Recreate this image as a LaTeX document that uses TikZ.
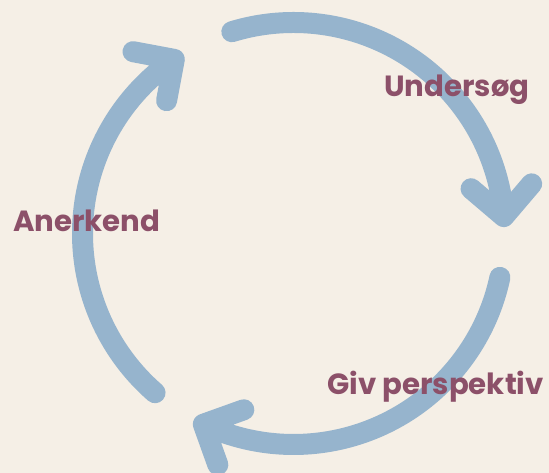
\documentclass[tikz,border=0pt]{standalone}
\usepackage{fontspec}
\setmainfont{Poppins}
\definecolor{bg}{HTML}{F5EFE6}
\definecolor{ring}{HTML}{96B4CD}
\definecolor{word}{HTML}{8C5069}
\begin{document}
\begin{tikzpicture}[x=1pt,y=1pt,
  cyclearc/.style={draw=ring, line width=21pt, line cap=round, line join=round},
  stage/.style={text=word, font=\fontsize{29.2}{35}\selectfont\bfseries,
    inner sep=0pt, anchor=base west}]
\fill[bg] (0,0) rectangle (549,473);
\useasboundingbox (0,0) rectangle (549,473);
\coordinate (c) at (293.5,239.5);
% three arcs of the cycle; each ends in an open chevron whose arms
% leave the end point at 45 degrees to the backward tangent
\draw[cyclearc] (c) ++(107:211) arc[start angle=107,end angle=4.6,radius=211]
  coordinate (tip1) -- ++(49.6:43) (tip1) -- ++(139.6:43);
\draw[cyclearc] (c) ++(-12:211) arc[start angle=-12,end angle=-115.3,radius=211]
  coordinate (tip2) -- ++(-70.3:43) (tip2) -- ++(19.7:43);
\draw[cyclearc] (c) ++(229:211) arc[start angle=229,end angle=124.4,radius=211]
  coordinate (tip3) -- ++(169.4:42) (tip3) -- ++(259.4:42);
% stage labels
\node[stage] (undersog) at (384,376) {Undersøg};
\node[stage] (giv) at (327,78) {Giv perspektiv};
\node[stage] (anerkend) at (13,241) {Anerkend};
\end{tikzpicture}
\end{document}
